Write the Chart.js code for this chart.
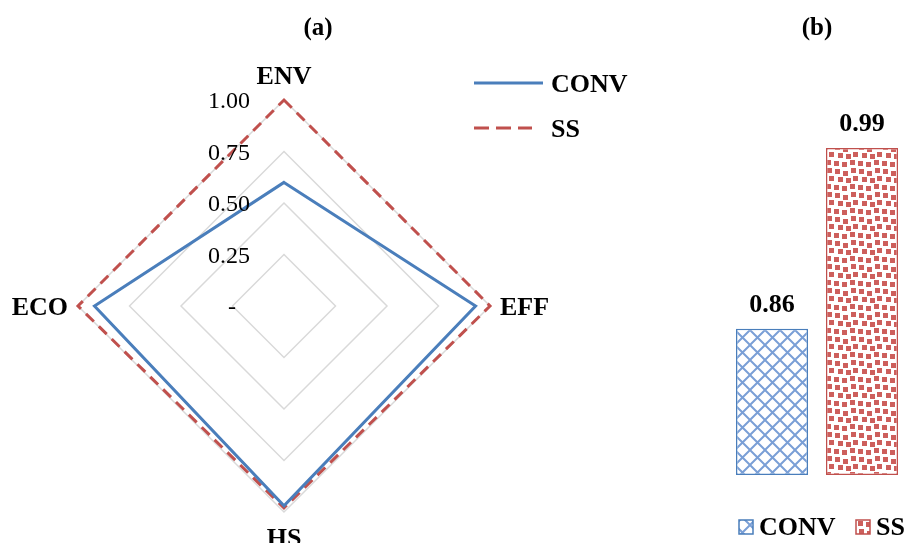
<!DOCTYPE html>
<html>
<head>
<meta charset="utf-8">
<script src="https://cdn.jsdelivr.net/npm/chart.js@4.4.1/dist/chart.umd.min.js"></script>
<style>
  html, body { margin: 0; padding: 0; background: #fff; overflow: hidden; }
  #radarChart { position: absolute; left: 0; top: 0; }
  #barChart { position: absolute; left: 690px; top: 0; }
</style>
</head>
<body>
<canvas id="radarChart" width="690" height="543"></canvas>
<canvas id="barChart" width="220" height="543"></canvas>
<script>
// data
const criteria = ["ENV", "EFF", "HS", "ECO"];
const convScores = [0.60, 0.93, 0.97, 0.92];
const ssScores = [1.00, 1.00, 0.98, 1.00];
const radarTicks = [0, 0.25, 0.5, 0.75, 1];
const seriesNames = ["CONV", "SS"];
const overallScores = [0.86, 0.99];

const BLUE = "#4a7ebb";
const RED = "#c0504d";
const SERIF = "'Liberation Serif', 'Times New Roman', serif";
const BAR_MIN = 0.755; // hidden value axis starts here

// fill patterns for the bars
function crossPattern() {
  const c = document.createElement("canvas");
  c.width = 15; c.height = 15;
  const g = c.getContext("2d");
  g.fillStyle = "#fff";
  g.fillRect(0, 0, 15, 15);
  g.strokeStyle = "#7a9fd6";
  g.lineWidth = 2;
  g.beginPath();
  g.moveTo(-1, -1); g.lineTo(16, 16);
  g.moveTo(16, -1); g.lineTo(-1, 16);
  g.stroke();
  return g.createPattern(c, "repeat");
}

function confettiPattern() {
  const c = document.createElement("canvas");
  c.width = 24; c.height = 24;
  const g = c.getContext("2d");
  g.fillStyle = "#fff";
  g.fillRect(0, 0, 24, 24);
  g.fillStyle = "#cd5f5c";
  [[1, 1], [9, 3], [17, 0], [4, 9], [12, 10], [19, 8], [0, 17], [8, 18], [16, 16]]
    .forEach(([x, y]) => g.fillRect(x, y, 5, 5));
  return g.createPattern(c, "repeat");
}

const barFills = [crossPattern(), confettiPattern()];

// Radar (a) - labels, ticks, title and legend
const radarText = {
  id: "radarText",
  afterDraw(chart) {
    const r = chart.scales.r;
    const ctx = chart.ctx;
    ctx.save();
    ctx.fillStyle = "#000";
    ctx.textBaseline = "alphabetic";

    ctx.font = "24px " + SERIF;
    ctx.textAlign = "right";
    radarTicks.forEach((v) => {
      const y = r.yCenter - r.getDistanceFromCenterForValue(v);
      if (v === 0) ctx.fillText("-", r.xCenter - 48, y + 8);
      else ctx.fillText(v.toFixed(2), r.xCenter - 34, y + 8);
    });

    ctx.font = "bold 26px " + SERIF;
    criteria.forEach((name, i) => {
      const p = r.getPointPositionForValue(i, 1);
      const dx = p.x - r.xCenter;
      const dy = p.y - r.yCenter;
      if (Math.abs(dx) < 1) {
        ctx.textAlign = "center";
        ctx.fillText(name, p.x, dy < 0 ? p.y - 16 : p.y + 34);
      } else {
        ctx.textAlign = dx > 0 ? "left" : "right";
        ctx.fillText(name, dx > 0 ? p.x + 10 : p.x - 10, p.y + 9);
      }
    });

    ctx.textAlign = "center";
    ctx.font = "bold 25px " + SERIF;
    ctx.fillText("(a)", 318, 35);

    // legend
    ctx.font = "bold 26px " + SERIF;
    ctx.textAlign = "left";
    chart.data.datasets.forEach((ds, i) => {
      const y = 83 + 45 * i;
      ctx.strokeStyle = ds.borderColor;
      ctx.lineWidth = 3;
      ctx.setLineDash(ds.borderDash ? [15, 7] : []);
      ctx.beginPath();
      ctx.moveTo(474, y);
      ctx.lineTo(ds.borderDash ? 532 : 543, y);
      ctx.stroke();
      ctx.setLineDash([]);
      ctx.fillText(ds.label, 551, y + 9);
    });
    ctx.restore();
  },
};

const radarCtx = document.getElementById("radarChart").getContext("2d");
const radarChart = new Chart(radarCtx, {
  type: "radar",
  data: {
    labels: criteria,
    datasets: [
      {
        label: seriesNames[0],
        data: convScores,
        borderColor: BLUE,
        borderWidth: 3,
        fill: false,
      },
      {
        label: seriesNames[1],
        data: ssScores,
        borderColor: RED,
        borderWidth: 3,
        borderDash: [11, 7],
        fill: false,
      },
    ],
  },
  options: {
    responsive: false,
    animation: false,
    layout: { padding: { left: 78, top: 100, right: 200, bottom: 31 } },
    elements: { point: { radius: 0 }, line: { tension: 0 } },
    plugins: { legend: { display: false }, tooltip: { enabled: false } },
    scales: {
      r: {
        min: 0,
        max: 1,
        ticks: { display: false, stepSize: 0.25 },
        pointLabels: { display: false },
        angleLines: { display: false },
        grid: { color: "#d9d9d9", lineWidth: 1.5 },
      },
    },
  },
  plugins: [radarText],
});

// Bars (b) - value labels, title and legend
const barText = {
  id: "barText",
  afterDatasetsDraw(chart) {
    const ctx = chart.ctx;
    ctx.save();
    ctx.fillStyle = "#000";
    ctx.textAlign = "center";
    ctx.textBaseline = "alphabetic";
    ctx.font = "bold 26px " + SERIF;
    chart.data.datasets.forEach((ds, i) => {
      const bar = chart.getDatasetMeta(i).data[0];
      ctx.fillText(ds.data[0].toFixed(2), bar.x, bar.y - 17);
    });

    ctx.font = "bold 25px " + SERIF;
    ctx.fillText("(b)", 127, 35);

    // legend
    ctx.font = "bold 26px " + SERIF;
    ctx.textAlign = "left";
    const boxX = [49, 166];
    chart.data.datasets.forEach((ds, i) => {
      ctx.fillStyle = ds.backgroundColor;
      ctx.fillRect(boxX[i], 520, 14, 14);
      ctx.strokeStyle = ds.borderColor;
      ctx.lineWidth = 1.5;
      ctx.strokeRect(boxX[i], 520, 14, 14);
      ctx.fillStyle = "#000";
      ctx.fillText(ds.label, boxX[i] + 20, 535);
    });
    ctx.restore();
  },
};

const barCtx = document.getElementById("barChart").getContext("2d");
const barChart = new Chart(barCtx, {
  type: "bar",
  data: {
    labels: [""],
    datasets: [
      {
        label: seriesNames[0],
        data: [overallScores[0]],
        base: BAR_MIN,
        backgroundColor: barFills[0],
        borderColor: BLUE,
        borderWidth: 1.5,
        borderSkipped: false,
      },
      {
        label: seriesNames[1],
        data: [overallScores[1]],
        base: BAR_MIN,
        backgroundColor: barFills[1],
        borderColor: RED,
        borderWidth: 1.5,
        borderSkipped: false,
      },
    ],
  },
  options: {
    responsive: false,
    animation: false,
    categoryPercentage: 1,
    barPercentage: 0.8,
    layout: { padding: { left: 37, right: 3, top: 134, bottom: 68 } },
    plugins: { legend: { display: false }, tooltip: { enabled: false } },
    scales: {
      x: { display: false },
      y: { display: false, min: BAR_MIN, max: 1.0 },
    },
  },
  plugins: [barText],
});
</script>
</body>
</html>
